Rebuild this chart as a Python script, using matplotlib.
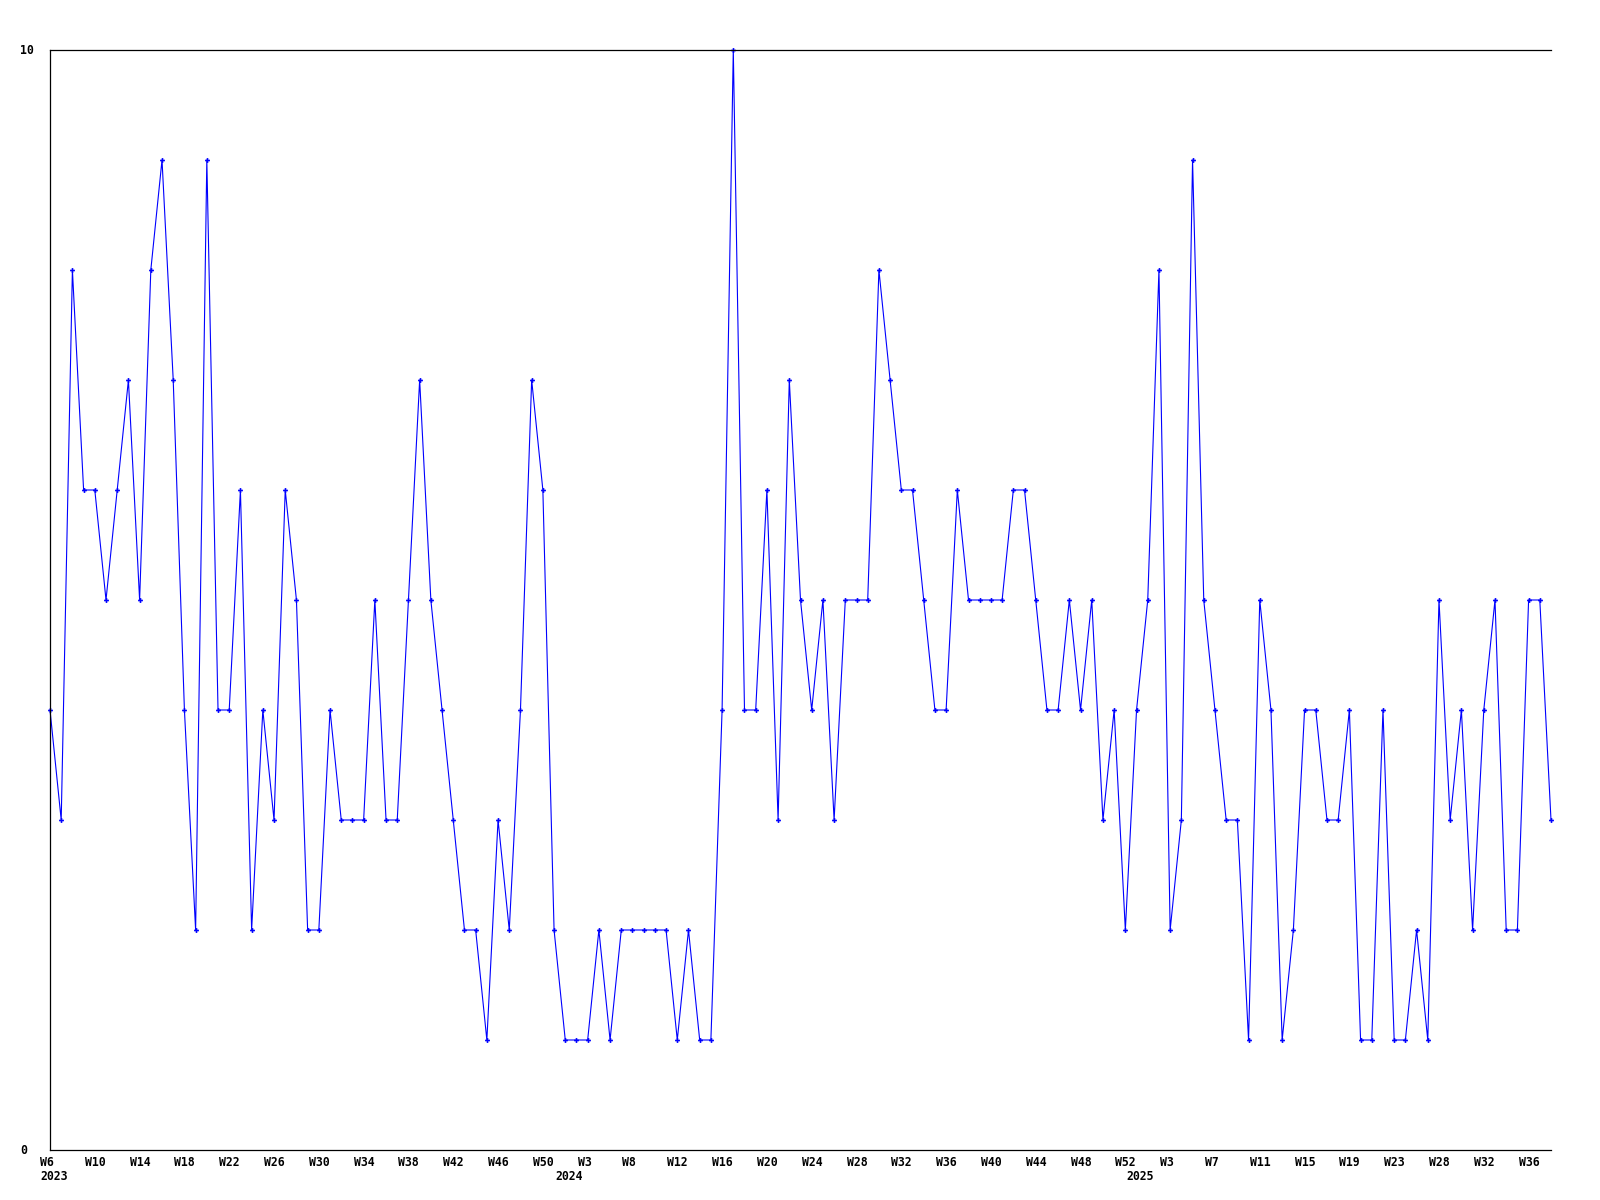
import matplotlib
matplotlib.use("Agg")
import matplotlib.pyplot as plt

# weekly counts, one per point, W6 2023 onwards
values = [
    4, 3, 8, 6, 6, 5, 6, 7, 5, 8,
    9, 7, 4, 2, 9, 4, 4, 6, 2, 4,
    3, 6, 5, 2, 2, 4, 3, 3, 3, 5,
    3, 3, 5, 7, 5, 4, 3, 2, 2, 1,
    3, 2, 4, 7, 6, 2, 1, 1, 1, 2,
    1, 2, 2, 2, 2, 2, 1, 2, 1, 1,
    4, 10, 4, 4, 6, 3, 7, 5, 4, 5,
    3, 5, 5, 5, 8, 7, 6, 6, 5, 4,
    4, 6, 5, 5, 5, 5, 6, 6, 5, 4,
    4, 5, 4, 5, 3, 4, 2, 4, 5, 8,
    2, 3, 9, 5, 4, 3, 3, 1, 5, 4,
    1, 2, 4, 4, 3, 3, 4, 1, 1, 4,
    1, 1, 2, 1, 5, 3, 4, 2, 4, 5,
    2, 2, 5, 5, 3,
]

week_labels = [
    "W6", "W10", "W14", "W18", "W22", "W26", "W30", "W34", "W38", "W42", "W46", "W50",
    "W3", "W8", "W12", "W16", "W20", "W24", "W28", "W32", "W36", "W40", "W44", "W48", "W52",
    "W3", "W7", "W11", "W15", "W19", "W23", "W28", "W32", "W36",
]
label_step = 4

years = ["2023", "2024", "2025"]
year_index = [0, 46, 97]

y_labels = ["0", "10"]
y_label_pos = [0, 10]

x = list(range(len(values)))

fig = plt.figure(figsize=(16, 12), dpi=100)
ax = fig.add_axes([50 / 1600, 1 - 1150 / 1200, 1501 / 1600, 1100 / 1200])

ax.plot(x, values, color="#0000ff", linewidth=0.8, marker="P", markersize=3.5,
        markeredgewidth=0, clip_on=False)

ax.set_xlim(0, len(values) - 1)
ax.set_ylim(0, 10)
ax.spines["right"].set_visible(False)
for s in ("left", "top", "bottom"):
    ax.spines[s].set_linewidth(0.9)
ax.set_xticks([])
ax.set_yticks([])

font = dict(family="DejaVu Sans Mono", fontweight="bold", fontsize=8.3)

for k, lab in enumerate(week_labels):
    ax.annotate(lab, xy=(k * label_step, 0), xycoords=("data", "axes fraction"),
                xytext=(-10, -13), textcoords="offset pixels",
                ha="left", va="center", annotation_clip=False, **font)

for yr, i in zip(years, year_index):
    ax.annotate(yr, xy=(i, 0), xycoords=("data", "axes fraction"),
                xytext=(-10, -27), textcoords="offset pixels",
                ha="left", va="center", annotation_clip=False, **font)

for lab, v in zip(y_labels, y_label_pos):
    ax.annotate(lab, xy=(0, v), xycoords=("axes fraction", "data"),
                xytext=(-30, 0), textcoords="offset pixels",
                ha="left", va="center", annotation_clip=False, **font)

fig.savefig("out.png", dpi=100)
